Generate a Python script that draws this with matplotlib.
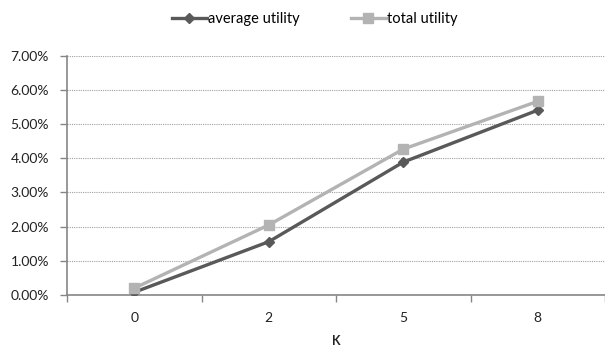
import matplotlib
matplotlib.use("Agg")
import matplotlib.pyplot as plt
from matplotlib.ticker import PercentFormatter, FixedLocator

plt.rcParams['font.family'] = ['Lato', 'DejaVu Sans']

k_labels = ['0', '2', '5', '8']
avg_utility = [0.0008, 0.0156, 0.0389, 0.0541]
total_utility = [0.0020, 0.0205, 0.0427, 0.0567]

dark = '#595959'
light = '#b3b3b3'
axis_grey = '#868686'

fig = plt.figure(figsize=(6.05, 3.47), dpi=100)
ax = fig.add_axes([0.111, 0.150, 0.889, 0.689])

x = range(len(k_labels))
ax.plot(x, avg_utility, color=dark, lw=2.4, marker='D', markersize=5.5,
        label='average utility', zorder=3)
ax.plot(x, total_utility, color=light, lw=2.4, marker='s', markersize=7.5,
        label='total utility', zorder=4)

ax.set_xlim(-0.5, 3.5)
ax.set_ylim(0, 0.07)
ax.set_yticks([i / 100 for i in range(8)])
ax.yaxis.set_major_formatter(PercentFormatter(1.0, decimals=2))

# category labels sit between the boundary ticks
ax.set_xticks(list(x))
ax.set_xticklabels(k_labels)
ax.xaxis.set_minor_locator(FixedLocator([-0.5, 0.5, 1.5, 2.5, 3.5]))
ax.tick_params(axis='x', which='major', length=0, pad=12, labelsize=10, colors='#222222')
ax.tick_params(axis='x', which='minor', length=5, width=1, color=axis_grey)
ax.tick_params(axis='y', length=5, width=1, color=axis_grey, labelsize=10,
               labelcolor='#222222', pad=8)

ax.grid(axis='y', linestyle=(0, (1, 1)), color='#a0a0a0', lw=0.8)
ax.set_axisbelow(True)
for side in ['top', 'right']:
    ax.spines[side].set_visible(False)
for side in ['left', 'bottom']:
    ax.spines[side].set_color(axis_grey)
    ax.spines[side].set_linewidth(1.2)

ax.set_xlabel('K', fontsize=9, fontweight='bold', color='#222222', labelpad=8)

fig.legend(loc='center', bbox_to_anchor=(0.52, 0.945), ncol=2, frameon=False,
           fontsize=10.5, handlelength=2.4, columnspacing=3.5, handletextpad=0.1)

fig.savefig('out.png', dpi=100)
